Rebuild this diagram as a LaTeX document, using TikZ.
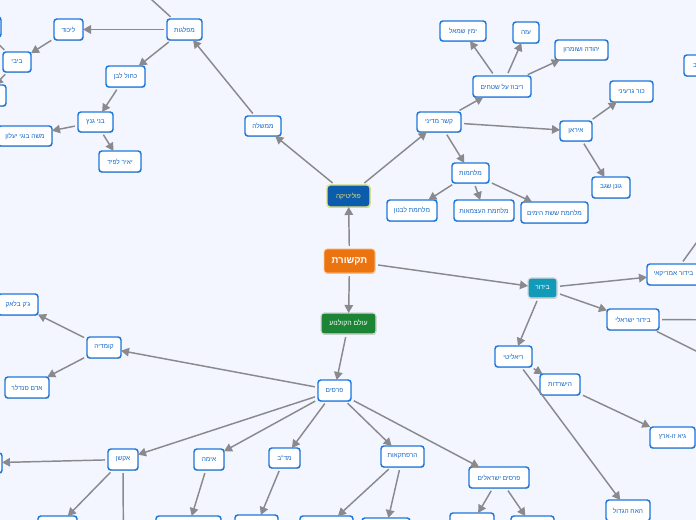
\documentclass[tikz,border=0pt]{standalone}
\usepackage{fontspec}
\usetikzlibrary{arrows.meta,shadows}
\newfontfamily\hfont[Script=Hebrew]{Liberation Sans}
\TeXXeTstate=1
\definecolor{bgc}{HTML}{F3F6FF}
\definecolor{edgec}{HTML}{8A8A8E}
\definecolor{bluec}{HTML}{1F78DC}
\definecolor{textc}{HTML}{1668C8}
\definecolor{polc}{HTML}{0B5CAD}
\definecolor{polb}{HTML}{E4E27A}
\definecolor{rootc}{HTML}{EC7410}
\definecolor{filmc}{HTML}{1B8535}
\definecolor{showc}{HTML}{139AB9}
\tikzset{
  px/.style={x=0.75pt,y=-0.75pt},
  basebox/.style={rounded corners=2.2pt,inner sep=0pt,outer sep=0pt,align=center,
    font=\hfont\fontsize{4.9}{6}\selectfont,
    drop shadow={shadow xshift=0.3pt,shadow yshift=-0.7pt,fill=black!70,opacity=.3}},
  leaf/.style={basebox,draw=bluec,line width=1.1pt,fill=white,text=textc},
  polbox/.style={basebox,draw=polb,line width=1.1pt,fill=polc,text=polb},
  rootbox/.style={basebox,draw=orange!40!white,line width=.6pt,fill=rootc,text=white,font=\hfont\bfseries\fontsize{7.2}{9}\selectfont},
  filmbox/.style={basebox,draw=white!85!black,line width=.8pt,fill=filmc,text=white,font=\hfont\fontsize{5.2}{6}\selectfont},
  showbox/.style={basebox,draw=white!85!black,line width=.8pt,fill=showc,text=white},
  link/.style={draw=edgec,line width=1.1pt,shorten <=2.4pt,-{Triangle[length=6pt,width=6.4pt]}},
}
% \nd{style}{name}{x1}{x2}{y1}{y2}{text}
\newcommand{\nd}[7]{\node[#1,minimum width={(#4-#3)*0.75pt},minimum height={(#6-#5)*0.75pt}] (#2) at ({(#3+#4)/2},{(#5+#6)/2}) {#7};}
\begin{document}
\begin{tikzpicture}[px]
\useasboundingbox (0,0) rectangle (696,520);
\clip (0,0) rectangle (696,520);
\fill[bgc] (0,0) rectangle (696,520);
% off-canvas free ends
\coordinate (upA) at (130,-20);
\coordinate (amOut) at (720,210);
\coordinate (isOutA) at (760,320);
\coordinate (isOutB) at (760,383);
\coordinate (downA) at (123.5,560);
% nodes
\nd{rootbox}{root}{324}{375}{249}{273}{\beginR תקשורת\endR}
\nd{polbox}{pol}{327}{370}{185}{207}{\beginR פוליטיקה\endR}
\nd{filmbox}{film}{321}{376}{313}{334}{\beginR עולם הקולנוע\endR}
\nd{showbox}{show}{528}{557}{278}{298}{\beginR בידור\endR}
\nd{leaf}{gov}{245}{281}{116}{136}{\beginR ממשלה\endR}
\nd{leaf}{parties}{167}{202}{19}{40}{\beginR מפלגות\endR}
\nd{leaf}{likud}{54}{83}{19}{40}{\beginR ליכוד\endR}
\nd{leaf}{bibi}{3}{31}{52}{72}{\beginR ביבי\endR}
\nd{leaf}{stubA}{-40}{1}{17}{37}{}
\nd{leaf}{stubB}{-36}{6}{85}{106}{}
\nd{leaf}{blue}{106}{145}{66}{87}{\beginR כחול לבן\endR}
\nd{leaf}{gantz}{78}{113}{112}{132}{\beginR בני גנץ\endR}
\nd{leaf}{yaalon}{-2}{52}{126}{146}{\beginR משה בוגי יעלון\endR}
\nd{leaf}{lapid}{99}{141}{151}{172}{\beginR יאיר לפיד\endR}
\nd{leaf}{dipl}{417}{461}{112}{132}{\beginR קשר מדיני\endR}
\nd{leaf}{terr}{473}{531}{76}{97}{\beginR ריבוז על שטחים\endR}
\nd{leaf}{left}{440}{486}{21}{41}{\beginR ימין שמאל\endR}
\nd{leaf}{gaza}{513}{539}{22}{43}{\beginR עזה\endR}
\nd{leaf}{judea}{555}{608}{40}{60}{\beginR יהודה ושומרון\endR}
\nd{leaf}{iran}{560}{592}{121}{141}{\beginR איראן\endR}
\nd{leaf}{nuke}{610}{653}{81}{102}{\beginR כור גרעיני\endR}
\nd{leaf}{segev}{592}{630}{177}{198}{\beginR גונן שגב\endR}
\nd{leaf}{wars}{452}{489}{163}{183}{\beginR מלחמות\endR}
\nd{leaf}{lebanon}{387}{437}{200}{221}{\beginR מלחמת לבנון\endR}
\nd{leaf}{indep}{454}{514}{200}{221}{\beginR מלחמת העצמאות\endR}
\nd{leaf}{six}{521}{588}{202}{223}{\beginR מלחמת ששת הימים\endR}
\nd{leaf}{topR}{684}{706}{55}{76}{\beginR ב\endR}
\nd{leaf}{amer}{647}{700}{264}{285}{\beginR בידור אמריקאי\endR}
\nd{leaf}{isr}{607}{659}{309}{330}{\beginR בידור ישראלי\endR}
\nd{leaf}{real}{495}{532}{346}{367}{\beginR ריאליטי\endR}
\nd{leaf}{surv}{540}{580}{374}{395}{\beginR הישרדות\endR}
\nd{leaf}{guy}{650}{695}{427}{448}{\beginR גיא זו-ארץ\endR}
\nd{leaf}{bigb}{606}{650}{500}{521}{\beginR האח הגדול\endR}
\nd{leaf}{prizes}{318}{351}{380}{401}{\beginR פרסים\endR}
\nd{leaf}{comedy}{87}{121}{337}{358}{\beginR קומדיה\endR}
\nd{leaf}{jack}{-2}{38}{294}{315}{\beginR ג'ק בלאק\endR}
\nd{leaf}{adam}{5}{49}{377}{398}{\beginR אדם סנדלר\endR}
\nd{leaf}{action}{108}{138}{449}{470}{\beginR אקשן\endR}
\nd{leaf}{horror}{194}{224}{449}{470}{\beginR אימה\endR}
\nd{leaf}{scifi}{269}{300}{448}{468}{\beginR מד"ב\endR}
\nd{leaf}{adv}{381}{424}{446}{467}{\beginR הרפתקאות\endR}
\nd{leaf}{isrp}{469}{529}{467}{488}{\beginR פרסים ישראלים\endR}
\nd{leaf}{stubC}{-42}{2}{453}{473}{}
\nd{leaf}{stubD}{38}{77}{516}{537}{}
\nd{leaf}{stubE}{156}{221}{516}{537}{}
\nd{leaf}{stubF}{235}{278}{515}{536}{}
\nd{leaf}{stubG}{300}{353}{516}{537}{}
\nd{leaf}{stubH}{362}{410}{518}{539}{}
\nd{leaf}{stubI}{450}{494}{513}{534}{}
\nd{leaf}{stubJ}{511}{554}{516}{537}{}
% connectors
\foreach \a/\b in {root/pol,root/film,root/show,pol/gov,pol/dipl,gov/parties,parties/likud,parties/blue,
  likud/bibi,bibi/stubA,bibi/stubB,blue/gantz,gantz/yaalon,gantz/lapid,parties/upA,
  dipl/terr,dipl/iran,dipl/wars,terr/left,terr/gaza,terr/judea,iran/nuke,iran/segev,
  wars/lebanon,wars/indep,wars/six,show/amer,show/isr,show/real,amer/amOut,isr/isOutA,isr/isOutB,
  real/surv,real/bigb,surv/guy,film/prizes,prizes/comedy,prizes/action,prizes/horror,prizes/scifi,
  prizes/adv,prizes/isrp,comedy/jack,comedy/adam,action/stubC,action/stubD,action/downA,horror/stubE,
  scifi/stubF,adv/stubG,adv/stubH,isrp/stubI,isrp/stubJ}{
  \draw[link] (\a) -- (\b);
}
\end{tikzpicture}
\end{document}
